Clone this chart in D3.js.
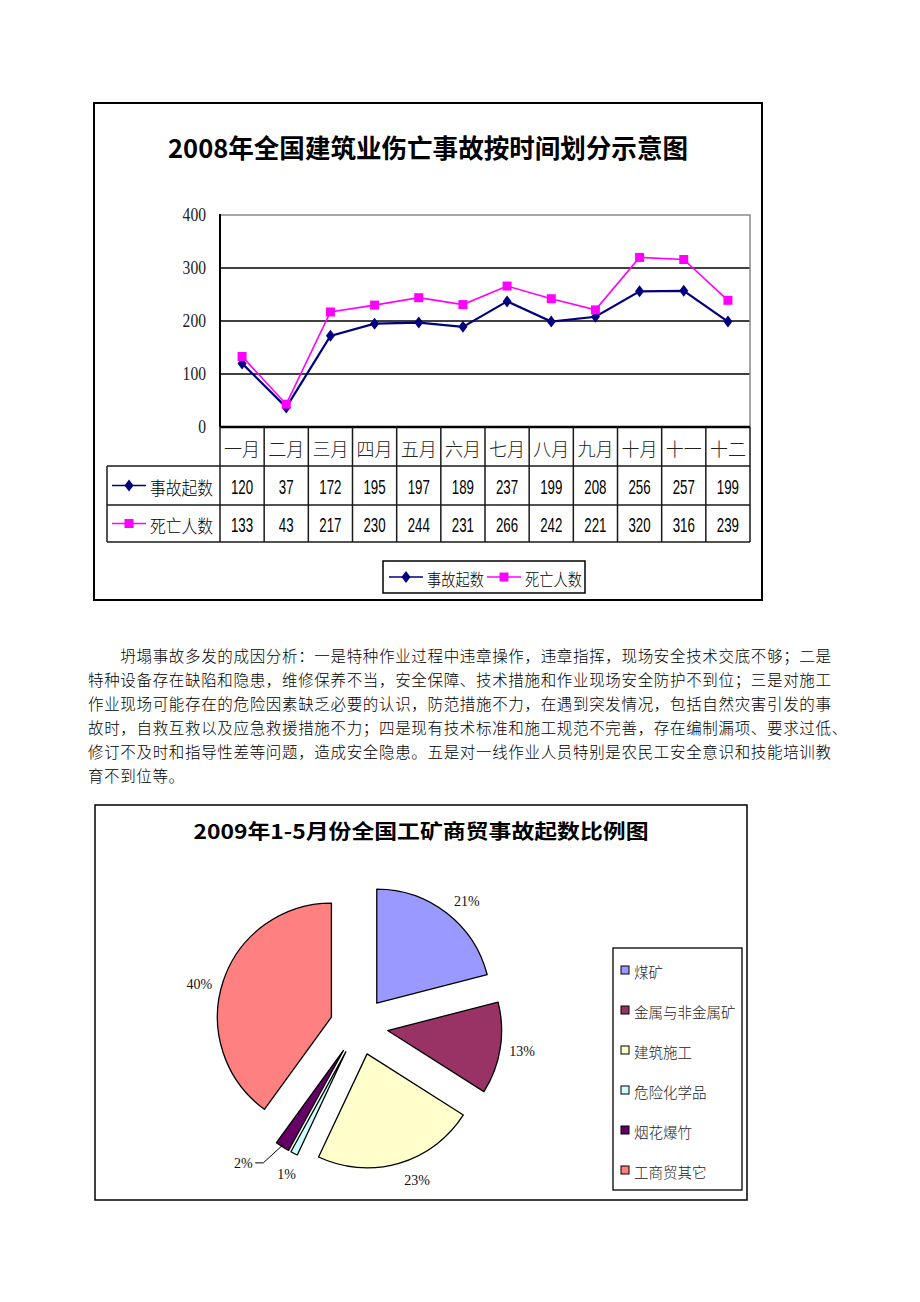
<!DOCTYPE html>
<html lang="zh">
<head>
<meta charset="UTF-8">
<title>建筑业伤亡事故 / 工矿商贸事故</title>
<script src="https://d3js.org/d3.v7.min.js"></script>
<style>
  body { margin: 0; background: #fff; }
  svg { display: block; }
</style>
</head>
<body>
<svg id="page" width="920" height="1302"></svg>
<script>
// ---- data ----
const months = ["一月", "二月", "三月", "四月", "五月", "六月", "七月", "八月", "九月", "十月", "十一", "十二"];
const accidents = [120, 37, 172, 195, 197, 189, 237, 199, 208, 256, 257, 199];
const deaths = [133, 43, 217, 230, 244, 231, 266, 242, 221, 320, 316, 239];
const seriesNames = ["事故起数", "死亡人数"];
const yTicks = [0, 100, 200, 300, 400];

const pieNames = ["煤矿", "金属与非金属矿", "建筑施工", "危险化学品", "烟花爆竹", "工商贸其它"];
const pieShares = [21, 13, 23, 1, 2, 40];
const pieColors = ["#9999FF", "#993366", "#FFFFCC", "#CCFFFF", "#660066", "#FF8080"];

const paraLines = [
  "坍塌事故多发的成因分析：一是特种作业过程中违章操作，违章指挥，现场安全技术交底不够；二是",
  "特种设备存在缺陷和隐患，维修保养不当，安全保障、技术措施和作业现场安全防护不到位；三是对施工",
  "作业现场可能存在的危险因素缺乏必要的认识，防范措施不力，在遇到突发情况，包括自然灾害引发的事",
  "故时，自救互救以及应急救援措施不力；四是现有技术标准和施工规范不完善，存在编制漏项、要求过低、",
  "修订不及时和指导性差等问题，造成安全隐患。五是对一线作业人员特别是农民工安全意识和技能培训教",
  "育不到位等。"
];

const cjk = "'Noto Sans CJK SC', sans-serif";
const serif = "'Liberation Serif', 'DejaVu Serif', serif";
const sans = "'Liberation Sans', Arial, sans-serif";

const svg = d3.select("#page");
svg.append("rect").attr("width", 920).attr("height", 1302).attr("fill", "#fff");

// ================= chart 1: line chart with data table =================
const c1 = svg.append("g");
c1.append("rect")
  .attr("x", 94).attr("y", 103).attr("width", 668).attr("height", 497)
  .attr("fill", "none").attr("stroke", "#000").attr("stroke-width", 2);

c1.append("text")
  .attr("x", 428).attr("y", 146)
  .attr("text-anchor", "middle").attr("dominant-baseline", "central")
  .attr("font-family", cjk).attr("font-weight", "bold").attr("font-size", 26)
  .attr("textLength", 520).attr("lengthAdjust", "spacingAndGlyphs")
  .text("2008年全国建筑业伤亡事故按时间划分示意图");

const plot = { left: 220, right: 750, top: 215, bottom: 427 };
const x = d3.scaleBand().domain(months).range([plot.left, plot.right]);
const y = d3.scaleLinear().domain([0, 400]).range([plot.bottom, plot.top]);

// gridlines
c1.append("g").selectAll("line")
  .data(yTicks.filter(t => t > 0 && t < 400))
  .join("line")
  .attr("x1", plot.left).attr("x2", plot.right)
  .attr("y1", d => y(d)).attr("y2", d => y(d))
  .attr("stroke", "#000").attr("stroke-width", 1.5);

// plot frame (top/right grey)
c1.append("path")
  .attr("d", `M${plot.left},${y(400)}H${plot.right}V${plot.bottom}`)
  .attr("fill", "none").attr("stroke", "#8a8a8a").attr("stroke-width", 1.5);

// y axis
const yAxis = c1.append("g")
  .attr("transform", `translate(${plot.left},0)`)
  .call(d3.axisLeft(y).tickValues(yTicks).tickSize(0).tickPadding(14));
yAxis.attr("font-family", serif).attr("font-size", 18);
yAxis.select(".domain").remove();
yAxis.selectAll("text")
  .style("font-family", serif).style("font-size", "18px").attr("fill", "#222")
  .attr("textLength", d => String(d).length * 7.8).attr("lengthAdjust", "spacingAndGlyphs");

c1.append("line")
  .attr("x1", plot.left).attr("x2", plot.left)
  .attr("y1", plot.top - 1).attr("y2", plot.bottom)
  .attr("stroke", "#000").attr("stroke-width", 2);

// data table
const rowTop = [427, 466, 505];
const rowBot = [466, 505, 542];
const tableLeft = 107;
const tg = c1.append("g").attr("stroke", "#1a1a1a").attr("stroke-width", 1.5);
tg.append("line").attr("x1", plot.left).attr("x2", plot.right)
  .attr("y1", plot.bottom).attr("y2", plot.bottom).attr("stroke", "#000").attr("stroke-width", 2.5);
[466, 505, 542].forEach(v => {
  tg.append("line").attr("x1", tableLeft).attr("x2", plot.right).attr("y1", v).attr("y2", v);
});
tg.append("line").attr("x1", tableLeft).attr("x2", tableLeft).attr("y1", 466).attr("y2", 542);
tg.selectAll("line.sep")
  .data(months.concat(["end"]))
  .join("line").attr("class", "sep")
  .attr("x1", (d, i) => plot.left + i * x.bandwidth())
  .attr("x2", (d, i) => plot.left + i * x.bandwidth())
  .attr("y1", plot.bottom).attr("y2", 542);

c1.append("g").selectAll("text")
  .data(months).join("text")
  .attr("x", d => x(d) + x.bandwidth() / 2).attr("y", (rowTop[0] + rowBot[0]) / 2 + 1)
  .attr("text-anchor", "middle").attr("dominant-baseline", "central")
  .attr("font-family", cjk).attr("font-size", 18).attr("font-weight", 300).attr("fill", "#222")
  .attr("textLength", 36).attr("lengthAdjust", "spacingAndGlyphs")
  .text(d => d);

const seriesData = [accidents, deaths];
const seriesColor = ["#000080", "#FF00FF"];
const diamond = "M0,-6L4.5,0L0,6L-4.5,0Z";
const square = "M-4.5,-4.5H4.5V4.5H-4.5Z";
const markers = [diamond, square];

seriesData.forEach((vals, s) => {
  const cy = (rowTop[s + 1] + rowBot[s + 1]) / 2;
  c1.append("g").selectAll("text")
    .data(vals).join("text")
    .attr("x", (d, i) => x(months[i]) + x.bandwidth() / 2).attr("y", cy + 1)
    .attr("text-anchor", "middle").attr("dominant-baseline", "central")
    .attr("font-family", sans).attr("font-size", 21)
    .attr("textLength", d => String(d).length * 7.4).attr("lengthAdjust", "spacingAndGlyphs")
    .text(d => d);
  // key + name
  c1.append("line").attr("x1", 112).attr("x2", 146).attr("y1", cy).attr("y2", cy)
    .attr("stroke", seriesColor[s]).attr("stroke-width", 1.5);
  c1.append("path").attr("d", markers[s]).attr("transform", `translate(129,${cy})`)
    .attr("fill", seriesColor[s]);
  c1.append("text").attr("x", 150).attr("y", cy + 1)
    .attr("dominant-baseline", "central")
    .attr("font-family", cjk).attr("font-size", 18).attr("font-weight", 300)
    .attr("textLength", 63).attr("lengthAdjust", "spacingAndGlyphs")
    .text(seriesNames[s]);
});

// lines
const line = d3.line()
  .x((d, i) => x(months[i]) + x.bandwidth() / 2)
  .y(d => y(d));
seriesData.forEach((vals, s) => {
  c1.append("path").datum(vals).attr("d", line)
    .attr("fill", "none").attr("stroke", seriesColor[s]).attr("stroke-width", s === 0 ? 2.2 : 1.6);
  c1.append("g").selectAll("path")
    .data(vals).join("path")
    .attr("d", markers[s])
    .attr("transform", (d, i) => `translate(${x(months[i]) + x.bandwidth() / 2},${y(d)})`)
    .attr("fill", seriesColor[s]);
});

// bottom legend
const lg = c1.append("g");
lg.append("rect").attr("x", 383).attr("y", 561).attr("width", 202).attr("height", 32)
  .attr("fill", "#fff").attr("stroke", "#000").attr("stroke-width", 1.5);
const legendX = [389, 487];
seriesNames.forEach((name, s) => {
  const lx = legendX[s];
  lg.append("line").attr("x1", lx).attr("x2", lx + 34).attr("y1", 577).attr("y2", 577)
    .attr("stroke", seriesColor[s]).attr("stroke-width", 1.5);
  lg.append("path").attr("d", markers[s]).attr("transform", `translate(${lx + 17},577)`)
    .attr("fill", seriesColor[s]);
  lg.append("text").attr("x", lx + 38).attr("y", 578)
    .attr("dominant-baseline", "central")
    .attr("font-family", cjk).attr("font-size", 17).attr("font-weight", 300)
    .attr("textLength", 57).attr("lengthAdjust", "spacingAndGlyphs")
    .text(name);
});

// ================= paragraph =================
const cw = 744 / 46;
svg.append("g").selectAll("text")
  .data(paraLines).join("text")
  .attr("x", (d, i) => 88 + (i === 0 ? 2 * cw : 0))
  .attr("y", (d, i) => 655 + i * 24)
  .attr("dominant-baseline", "central")
  .attr("font-family", cjk).attr("font-size", 15.5).attr("font-weight", 300)
  .attr("textLength", d => Array.from(d).length * cw - 1)
  .attr("lengthAdjust", "spacing")
  .text(d => d);

// ================= chart 2: exploded pie =================
const c2 = svg.append("g");
c2.append("rect")
  .attr("x", 95).attr("y", 805).attr("width", 652).attr("height", 395)
  .attr("fill", "none").attr("stroke", "#000").attr("stroke-width", 1.5);

c2.append("text")
  .attr("x", 421).attr("y", 830)
  .attr("text-anchor", "middle").attr("dominant-baseline", "central")
  .attr("font-family", cjk).attr("font-weight", "bold").attr("font-size", 20)
  .attr("textLength", 455).attr("lengthAdjust", "spacingAndGlyphs")
  .text("2009年1-5月份全国工矿商贸事故起数比例图");

const pieCx = 359, pieCy = 1026, radius = 114, explode = 29, labelR = 165;
// small angular nudges (degrees) so labels sit where the original put them
const labelShift = [3, 0, -4.4, -1, 7.6, -3.3];
const pie = d3.pie().sort(null).value(d => d)(pieShares);
const arc = d3.arc().innerRadius(0).outerRadius(radius);
const mid = d => (d.startAngle + d.endAngle) / 2;

const pg = c2.append("g").attr("transform", `translate(${pieCx},${pieCy})`);
pg.selectAll("path")
  .data(pie).join("path")
  .attr("d", arc)
  .attr("transform", d => `translate(${explode * Math.sin(mid(d))},${-explode * Math.cos(mid(d))})`)
  .attr("fill", (d, i) => pieColors[i])
  .attr("stroke", "#000").attr("stroke-width", 1.3).attr("stroke-linejoin", "round");

// labels; the 2% one is pushed aside with a leader line
pg.selectAll("text")
  .data(pie).join("text")
  .each(function (d, i) {
    const a = mid(d) + labelShift[i] * Math.PI / 180;
    const r = i === 4 ? 180 : labelR;
    d.lx = r * Math.sin(a); d.ly = -r * Math.cos(a);
  })
  .attr("x", d => d.lx).attr("y", d => d.ly)
  .attr("text-anchor", "middle").attr("dominant-baseline", "central")
  .attr("font-family", serif).attr("font-size", 14).attr("fill", "#111")
  .text(d => d.data + "%");

const fw = pie[4];
const tipR = radius + explode - 4;
pg.append("path")
  .attr("d", d3.line()([
    [fw.lx + 12, fw.ly - 1],
    [fw.lx + 20, fw.ly - 1],
    [tipR * Math.sin(mid(fw)), -tipR * Math.cos(mid(fw))]
  ]))
  .attr("fill", "none").attr("stroke", "#000").attr("stroke-width", 1);

// pie legend
const pl = c2.append("g");
pl.append("rect").attr("x", 613).attr("y", 948).attr("width", 129).attr("height", 242)
  .attr("fill", "#fff").attr("stroke", "#000").attr("stroke-width", 1.3);
const item = pl.selectAll("g.item")
  .data(pieNames).join("g").attr("class", "item")
  .attr("transform", (d, i) => `translate(621,${970 + i * 40})`);
item.append("rect").attr("x", 0).attr("y", -4).attr("width", 8).attr("height", 8)
  .attr("fill", (d, i) => pieColors[i]).attr("stroke", "#000").attr("stroke-width", 1);
item.append("text").attr("x", 13).attr("y", 1)
  .attr("dominant-baseline", "central")
  .attr("font-family", cjk).attr("font-size", 14.5).attr("font-weight", 300).attr("fill", "#222")
  .text(d => d);
</script>
</body>
</html>
